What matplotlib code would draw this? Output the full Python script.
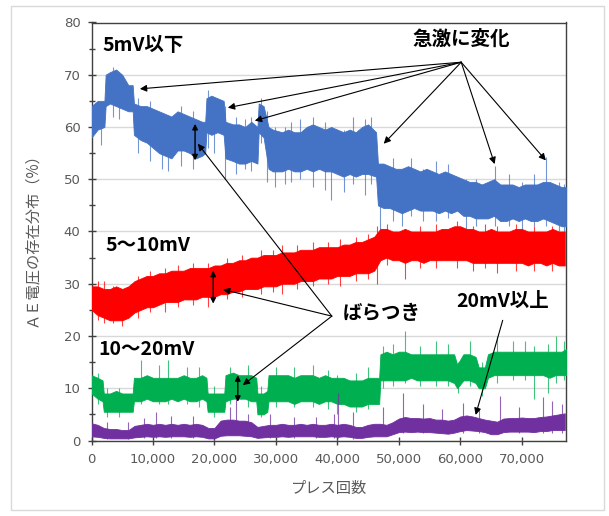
import matplotlib
matplotlib.use("Agg")
import matplotlib.pyplot as plt
from matplotlib.patches import Rectangle
from matplotlib.ticker import MultipleLocator, FuncFormatter

plt.rcParams['font.family'] = ['Noto Sans CJK JP', 'DejaVu Sans']

# ---------------- data ----------------
# 5mV以下 (blue) : press count, upper / lower envelope of the noisy band (%)
blue_x = [0, 1000, 2100, 2300, 3000, 4000, 5000, 6000, 6700, 6900, 8000, 9000, 10000, 11000,
          12000, 13000, 14000, 15000, 16000, 17000, 18000, 18500, 18700, 19500, 20500, 21500,
          21800, 23000, 24000, 25000, 26000, 27000, 27200, 28000, 28800, 29500, 31000, 32000,
          33000, 34000, 35000, 36000, 37000, 38000, 39000, 40000, 41000, 42000, 43000, 44000,
          45000, 46300, 46600, 47500, 48500, 49500, 50500, 51500, 52500, 53500, 54500, 55500,
          56500, 57500, 58500, 59500, 60500, 61500, 62500, 63500, 64500, 65500, 66500, 67500,
          68500, 69500, 70500, 71500, 72500, 73500, 74500, 75500, 76500, 77200]
blue_hi = [64, 65, 65, 70, 70.5, 71, 70, 68, 68, 64.5, 64, 64, 63.5, 63,
           62.5, 62, 63, 62.5, 62, 61.5, 61, 61, 65.5, 66, 65.5, 65,
           61, 60.5, 60.5, 60, 61, 60, 64.5, 64, 60, 59.5, 59, 59.5,
           59, 59, 60, 60.5, 60, 59.5, 60, 59.5, 59, 59.5, 59, 60,
           60.5, 59, 53, 53, 52.5, 52, 52, 52.5, 52, 51.5, 52, 51.5,
           51, 51.5, 51, 50.5, 50, 49.5, 49.5, 49, 49.5, 50, 49, 49,
           49, 48.5, 49, 49, 49, 49.5, 49.5, 49, 48.5, 48.5]
blue_lo = [58, 59.5, 60, 64, 64.5, 64, 63.5, 63, 63, 58.5, 57.5, 57, 56, 55,
           54.5, 54, 55.5, 55.5, 55, 54, 54.5, 55, 59, 58.5, 59, 58.5,
           54, 53.5, 53, 53, 53.5, 53, 59, 58, 52, 51.5, 51.5, 52,
           51.5, 51.5, 52, 51.5, 52, 51.5, 51.5, 51, 50.5, 51, 50.5, 51,
           51, 50.5, 45, 44.5, 44.5, 44, 43.5, 44, 44.5, 44, 44, 44,
           43.5, 44, 43.5, 44, 43, 43, 42.5, 42.5, 42.5, 43, 42, 42,
           42.5, 42, 42.5, 42, 42, 42.5, 42, 41.5, 41, 41]
blue_spike_x = [1500, 3500, 4500, 7500, 9500, 11500, 12500, 14500, 16500, 19000, 20000, 21700,
                23500, 25000, 26000, 27600, 28600, 29800, 31500, 32500, 34000, 36000, 38000,
                39000, 41000, 42500, 44500, 45500, 47000, 49000, 50500, 52000, 54000, 56000,
                58000, 61000, 62500, 65700, 68000, 70000, 72000, 74000, 76000, 76800]
blue_spike_lo = [56.5, 62, 61.5, 55, 53.5, 52, 51.5, 52.5, 52, 56, 55, 50,
                 51, 52, 51.5, 57, 49.5, 48.5, 49, 49.5, 50, 48.5, 48,
                 46, 47.5, 49, 47, 49, 40, 42, 41, 43, 42, 42,
                 42.5, 40.5, 41, 41, 41, 40.5, 41, 41, 40, 39.5]
blue_spike_hi = [63, 71.5, 70, 65.5, 65, 61, 62, 64, 63, 67, 64, 64,
                 62, 61.5, 62, 65.5, 63, 60, 60, 61, 61.5, 62, 61,
                 60, 59.5, 62, 61.5, 62, 53, 54, 52, 54, 52, 53.5,
                 53, 50, 50, 52.5, 51, 49.5, 51, 54.3, 49.5, 49]

# 5～10mV (red)
red_x = list(range(0, 78000, 1000))
red_hi = [29.5, 29.5, 29, 29, 29.5, 29, 29.5, 30.5, 31, 31.5, 31.5, 32, 32, 32.5, 32.5, 32.5,
          33, 33, 33, 33, 33.5, 33.5, 34, 34, 34.5, 34.5, 35, 35, 35.5, 35.5, 35.5, 36,
          36, 36, 36.5, 36.5, 36.5, 37, 37, 37, 37, 37.5, 37.5, 38, 38, 38.5, 39, 40.5,
          40.5, 40, 40, 40.5, 40, 40, 40, 40, 40, 40.5, 40.5, 41, 41, 40.5, 40.5, 40,
          40, 40.5, 40, 40, 40, 40.5, 40.5, 40, 40, 40, 40, 40.5, 40, 40]
red_lo = [25, 24, 23.5, 23, 23, 23, 23.5, 24.5, 25, 25.5, 25.5, 26, 26.5, 26.5, 26.5, 27,
          27, 27, 27.5, 27.5, 27.5, 28, 28, 28.5, 28.5, 29, 29, 29, 29.5, 29.5, 29.5, 30,
          30, 30, 30.5, 30.5, 30.5, 31, 31, 31, 31.5, 31.5, 31.5, 32, 32, 32, 32.5, 34.5,
          35, 34.5, 34.5, 34, 34.5, 34.5, 34, 34.5, 34.5, 34.5, 34.5, 34.5, 34.5, 34.5, 34, 34,
          34, 34, 34, 34, 34, 34, 34, 33.5, 34, 34, 33.5, 34, 33.5, 33.5]
red_spike_x = [1000, 2000, 3500, 5000, 7500, 9500, 12000, 14000, 16500, 19000, 22000, 24500,
               27500, 29500, 31000, 33500, 36000, 38500, 40500, 43000, 45000, 46500, 48000,
               51000, 53500, 56000, 59500, 62000, 64000, 66000, 69000, 72000, 75000]
red_spike_lo = [23, 22.5, 22.5, 22, 23.5, 24.5, 24.5, 25.5, 26, 25.5, 27, 27.5,
                28, 28.5, 28, 29, 29.5, 30, 29.5, 30.5, 31, 30, 33.5,
                31, 33, 33, 33, 32.5, 33, 32, 32.5, 32.5, 32.5]
red_spike_hi = [30.5, 30.5, 29.5, 29, 31.5, 32.5, 33, 33.5, 34, 34, 35, 35.5,
                36.5, 36.5, 37.5, 37.5, 38, 38, 38.5, 39, 39.5, 41, 41.5,
                40.5, 41, 41.5, 42, 41, 41.5, 41, 41.5, 41, 41]

# 10～20mV (green)
green_x = [0, 1000, 1800, 2000, 3000, 4000, 5000, 6000, 6700, 6900, 8000, 9000, 10000, 11000,
           12000, 13000, 14000, 15000, 16000, 17000, 18000, 18700, 18900, 20000, 21000, 21600,
           21800, 23000, 24000, 25000, 26000, 26800, 27000, 28000, 28600, 28800, 30000, 31000,
           32000, 33000, 34000, 35000, 36000, 37000, 38000, 39000, 40000, 41000, 42000, 43000,
           44000, 45000, 46000, 46800, 47000, 48000, 49000, 50000, 51000, 52000, 53000, 54000,
           55000, 56000, 57000, 58000, 59000, 59500, 60500, 61500, 62500, 63000, 64000, 64500,
           65500, 66500, 67500, 68500, 69500, 70500, 71500, 72500, 73500, 74500, 75500, 76500, 77200]
green_hi = [12.5, 12, 11.5, 9, 9, 9.5, 9, 9, 9, 12, 12, 12.5, 12, 12,
            12, 12, 12, 12.5, 12, 12, 12.5, 12, 9, 9, 9, 9,
            12.5, 13, 12.5, 12.5, 12.5, 12, 9, 9, 9.5, 12.5, 12.5, 12.5,
            12.5, 12, 12.5, 12.5, 12.5, 12, 12.5, 12, 12, 12, 11.5, 11.5,
            11.5, 12, 12, 12, 16.5, 17, 16.5, 17, 17, 16.5, 16.5, 16.5,
            16.5, 16.5, 16.5, 16.5, 16.5, 14.5, 16.5, 16.5, 16, 14, 14, 16.5,
            17, 17, 17, 17, 17, 17, 17, 17, 17, 17, 17, 17, 17.5]
green_lo = [9, 8, 7.5, 5.5, 5.5, 5.5, 5.5, 5.5, 5.5, 7.5, 7.5, 8, 7.5, 7.5,
            7.5, 8, 7.5, 8, 7.5, 7.5, 8, 7.5, 5.5, 5.5, 5.5, 5.5,
            7.5, 8, 8, 8, 7.5, 7.5, 5, 5, 5.5, 7.5, 7.5, 7.5,
            7.5, 7, 7.5, 7.5, 7.5, 7, 7.5, 7.5, 7, 7, 6.5, 6.5,
            6.5, 7, 7, 7, 11.5, 11.5, 11.5, 11.5, 11.5, 12, 11.5, 11.5,
            11.5, 11.5, 11.5, 11.5, 11, 10, 11.5, 11.5, 11, 10, 10, 12,
            12.5, 12.5, 12.5, 12.5, 12.5, 12.5, 12.5, 12.5, 12.5, 12, 12.5, 12.5, 12.5]
green_spike_x = [1000, 2500, 4500, 8000, 11000, 12400, 15500, 17500, 20000, 22500, 25500, 27500,
                 30000, 33000, 36000, 38500, 40000, 43000, 45000, 47500, 49000, 51000, 53500,
                 56000, 58000, 59700, 61500, 63500, 66000, 68500, 70500, 72000, 74200, 75500, 76800]
green_spike_lo = [7, 4.5, 4.5, 7, 7, 7, 7, 6.5, 4.5, 7, 6.5, 4.5,
                  6.5, 6.5, 6.5, 6, 5, 5.5, 6, 10, 10.5, 11, 10.5,
                  10.5, 10.5, 9, 10.5, 8.5, 11, 11.5, 11.5, 8, 9, 11, 11.5]
green_spike_hi = [13, 10, 10, 15.5, 14.5, 15.4, 14, 14, 10.5, 14, 14.5, 10.5,
                  14, 14, 14.5, 13.5, 12.5, 13, 14, 18, 18.5, 21, 18,
                  19, 18.5, 15, 19, 15, 20, 19, 19, 18, 18.5, 20, 19]

# 20mV以上 (purple)
purple_x = list(range(0, 78000, 1000))
purple_hi = [3.3, 3.0, 2.4, 2.2, 2.2, 2.0, 2.0, 2.8, 3.0, 3.2, 3.0, 3.2, 3.0, 3.2, 3.0, 3.2,
             3.0, 3.2, 3.0, 2.4, 2.4, 3.8, 4.0, 4.0, 3.8, 3.8, 3.5, 2.6, 2.8, 3.0, 3.0, 3.2,
             3.0, 3.0, 3.2, 3.0, 3.2, 3.0, 3.0, 3.2, 3.0, 3.2, 3.0, 2.6, 2.6, 3.0, 3.2, 3.2,
             3.0, 3.5, 4.2, 4.5, 4.3, 4.3, 4.2, 4.3, 4.0, 4.0, 3.8, 4.0, 4.6, 4.8, 4.6, 4.3,
             4.0, 3.8, 3.6, 4.2, 4.3, 4.3, 4.4, 4.3, 4.3, 4.5, 4.6, 4.8, 5.0, 5.2]
purple_lo = [0.8, 0.7, 0.5, 0.4, 0.4, 0.4, 0.4, 0.6, 0.7, 0.8, 0.7, 0.8, 0.7, 0.8, 0.8, 0.8,
             0.7, 0.8, 0.7, 0.4, 0.4, 0.9, 1.0, 1.0, 1.0, 0.9, 0.8, 0.5, 0.6, 0.7, 0.7, 0.8,
             0.7, 0.8, 0.8, 0.8, 0.8, 0.7, 0.7, 0.8, 0.7, 0.8, 0.7, 0.5, 0.5, 0.7, 0.8, 0.8,
             0.8, 1.2, 1.6, 1.7, 1.6, 1.7, 1.6, 1.6, 1.5, 1.4, 1.3, 1.5, 1.8, 2.0, 1.9, 1.8,
             1.6, 1.2, 1.2, 1.6, 1.7, 1.7, 1.7, 1.7, 1.6, 1.8, 1.8, 2.0, 2.0, 2.0]
purple_spike_x = [2500, 6000, 8500, 10500, 13000, 16500, 22500, 23500, 25500, 29000, 33000,
                  36500, 39500, 40100, 42500, 47500, 50700, 54000, 57000, 60500, 63000, 66500,
                  69500, 73500, 75000, 76500]
purple_spike_lo = [0.2, 0.2, 0.5, 0.5, 0.5, 0.5, 1, 1, 1, 0.5, 0.5,
                   0.5, 0.5, 0.5, 0.3, 0.8, 1.5, 1.5, 1.5, 1.5, 1.5, 1.5,
                   1.5, 1.5, 1.5, 1.5]
purple_spike_hi = [3.5, 3.5, 4.3, 5.5, 4.6, 4.6, 6.5, 8, 5, 5, 4.5,
                   4.5, 5, 9.0, 5.5, 6.5, 9.0, 7, 6, 7.2, 6, 8.5,
                   6.5, 8.4, 7.5, 7]

y_ticks = [0, 10, 20, 30, 40, 50, 60, 70, 80]
x_ticks = [0, 10000, 20000, 30000, 40000, 50000, 60000, 70000]

# ---------------- figure ----------------
W, H = 609, 516
fig = plt.figure(figsize=(W / 100, H / 100), dpi=100)
fig.patch.set_facecolor('white')
fig.patches.append(Rectangle((11 / W, 1 - 510 / H), 593 / W, 504 / H, transform=fig.transFigure,
                             fill=False, edgecolor='#d9d9d9', lw=1.0))

ax = fig.add_axes([91.5 / W, 1 - 440.5 / H, (566 - 91.5) / W, (440.5 - 22.5) / H])

series = [
    (blue_x, blue_hi, blue_lo, blue_spike_x, blue_spike_lo, blue_spike_hi, '#4472C4'),
    (red_x, red_hi, red_lo, red_spike_x, red_spike_lo, red_spike_hi, '#FF0000'),
    (green_x, green_hi, green_lo, green_spike_x, green_spike_lo, green_spike_hi, '#00B050'),
    (purple_x, purple_hi, purple_lo, purple_spike_x, purple_spike_lo, purple_spike_hi, '#7030A0'),
]
for xs, hi, lo, sx, slo, shi, col in series:
    ax.fill_between(xs, lo, hi, color=col, lw=0.6, edgecolor=col, zorder=3)
    ax.vlines(sx, slo, shi, color=col, lw=0.8, alpha=0.75, zorder=3)

ax.set_xlim(0, 77200)
ax.set_ylim(0, 80)
ax.set_yticks(y_ticks)
ax.set_xticks(x_ticks)
ax.yaxis.set_minor_locator(MultipleLocator(5))
ax.xaxis.set_major_formatter(FuncFormatter(lambda v, p: f"{int(v):,}"))
ax.grid(axis='y', which='major', color='#d9d9d9', lw=1.0, zorder=0)
ax.set_axisbelow(True)
for s in ax.spines.values():
    s.set_color('#404040')
    s.set_linewidth(1.0)
ax.tick_params(axis='both', which='both', direction='inout', colors='#404040',
               labelcolor='#595959', labelsize=9.5, length=6, width=1.0)
ax.tick_params(axis='both', which='minor', length=5)
ax.tick_params(axis='x', pad=6)
ax.tick_params(axis='y', pad=5)
ax.tick_params(top=False, right=False)
for lab in ax.get_xticklabels() + ax.get_yticklabels():
    lab.set_family('DejaVu Sans')

ax.set_xlabel('プレス回数', fontsize=11, color='#595959', labelpad=10)
ax.set_ylabel('ＡＥ電圧の存在分布（%）', fontsize=11, color='#595959', labelpad=8)
ax.yaxis.set_label_coords(-0.108, 0.49)

# ---------------- annotations ----------------
tk = dict(fontsize=14, fontweight='bold', color='black', zorder=6)
ax.text(1850, 75.6, '5mV以下', ha='left', va='center', **tk)
ax.text(60100, 76.9, '急激に変化', ha='center', va='center', **tk)
ax.text(2200, 37.4, '5～10mV', ha='left', va='center', **tk)
ax.text(1100, 17.4, '10～20mV', ha='left', va='center', **tk)
ax.text(40900, 24.4, 'ばらつき', ha='left', va='center', **tk)
ax.text(59400, 26.6, '20mV以上', ha='left', va='center', **tk)

ap = dict(arrowstyle='-|>', color='black', lw=0.8, mutation_scale=10, shrinkA=0, shrinkB=0)
origin_change = (60150, 72.4)
for tgt in [(7870, 67.3), (22180, 63.7), (26570, 61.2), (47550, 56.8), (65590, 52.9), (73920, 53.6)]:
    ax.annotate('', xy=tgt, xytext=origin_change, arrowprops=ap, zorder=6)

origin_var = (39100, 23.8)
for tgt in [(17300, 56.8), (21400, 28.9), (24620, 10.6)]:
    ax.annotate('', xy=tgt, xytext=origin_var, arrowprops=ap, zorder=6)

ax.annotate('', xy=(62500, 4.9), xytext=(66900, 23.0), arrowprops=ap, zorder=6)

dp = dict(arrowstyle='<|-|>', color='black', lw=1.0, mutation_scale=8, shrinkA=0, shrinkB=0)
for xv, y0, y1 in [(16850, 53.6, 60.6), (19800, 26.2, 32.5), (23800, 7.4, 12.5)]:
    ax.annotate('', xy=(xv, y1), xytext=(xv, y0), arrowprops=dp, zorder=6)

fig.savefig('out.png', dpi=100, facecolor='white')
